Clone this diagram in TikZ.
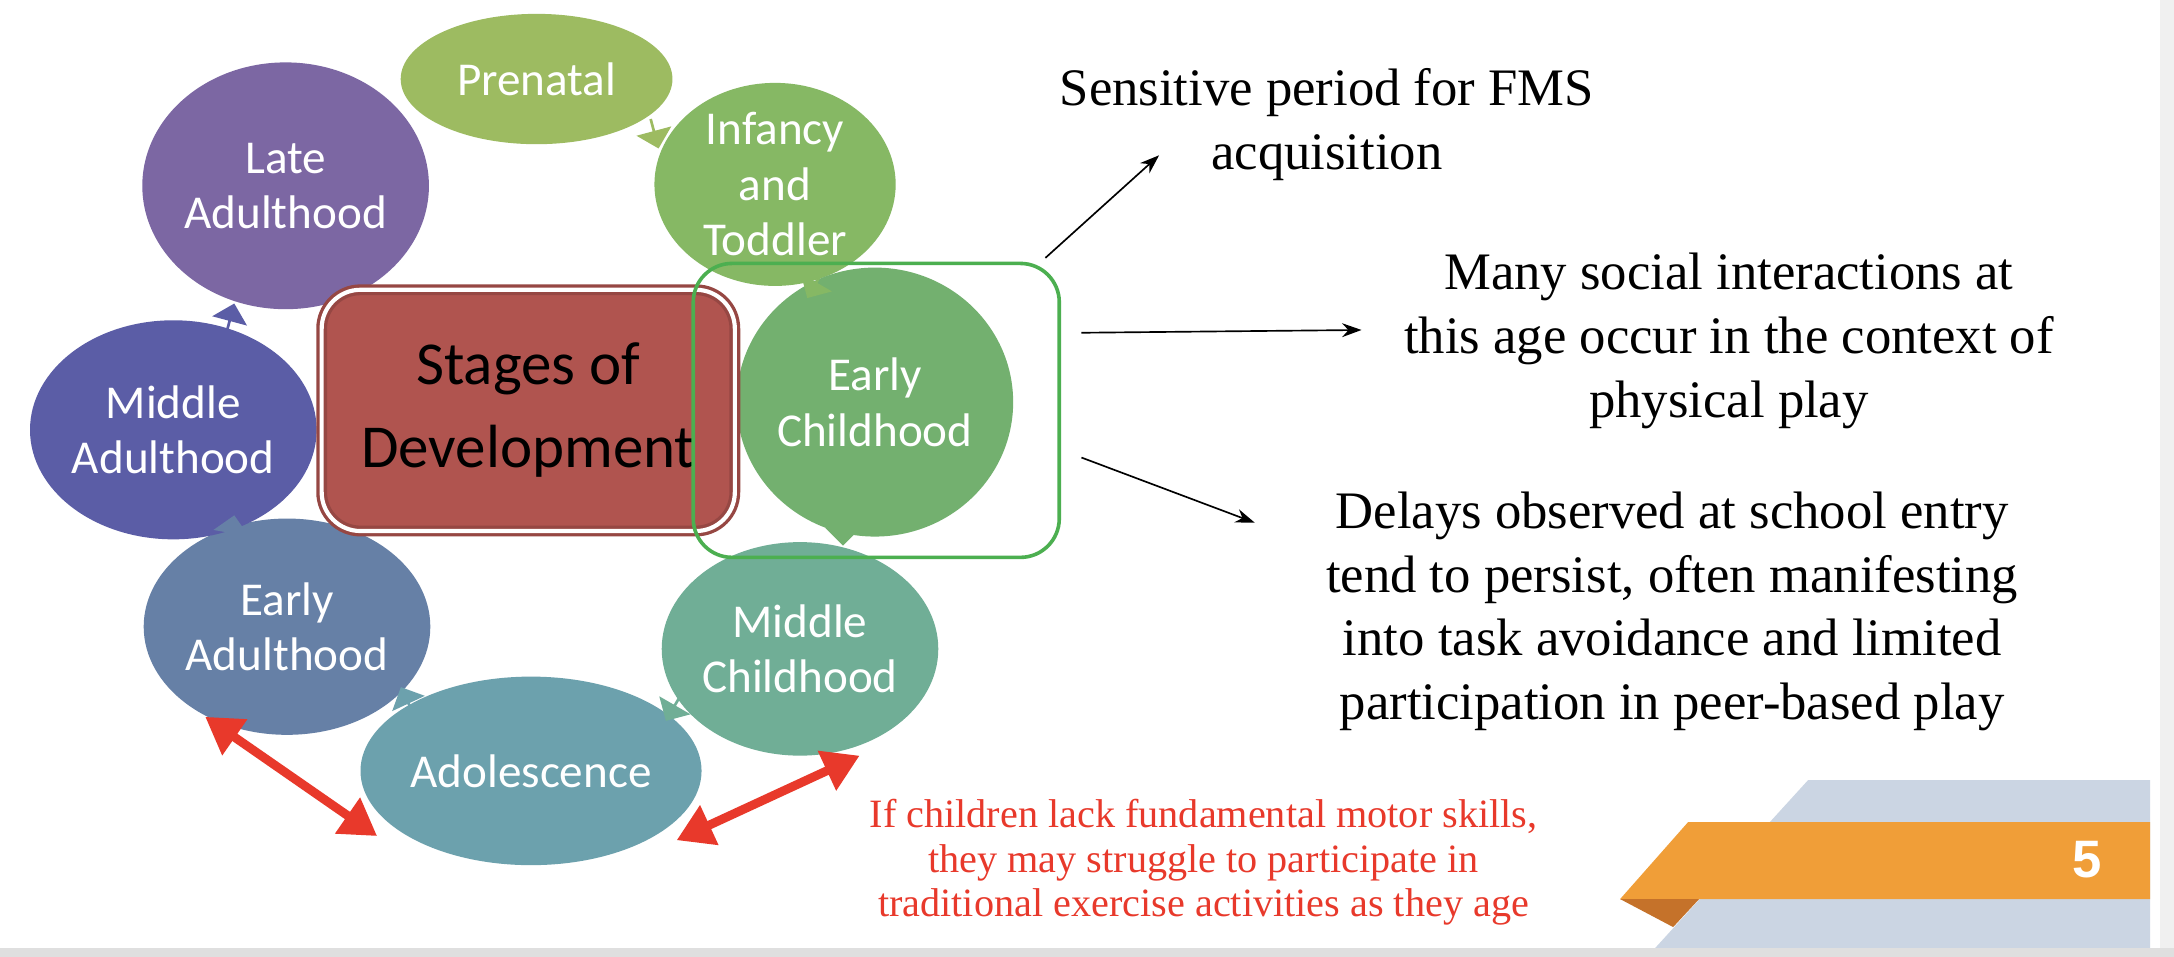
\documentclass[tikz,border=0pt]{standalone}
\usepackage{fontspec}
\setmainfont{Liberation Serif}
\newfontfamily\calfnt{Carlito}
\newfontfamily\arl{Liberation Sans}
\usetikzlibrary{shapes.geometric,shapes.arrows,arrows.meta}
\definecolor{cPre}{HTML}{9DBB61}
\definecolor{cInf}{HTML}{86B864}
\definecolor{cEC}{HTML}{73B06F}
\definecolor{cMC}{HTML}{70AE96}
\definecolor{cAdo}{HTML}{6CA1AD}
\definecolor{cEA}{HTML}{6680A6}
\definecolor{cMA}{HTML}{5B5DA6}
\definecolor{cLA}{HTML}{7C67A3}
\definecolor{cBox}{HTML}{B0544F}
\definecolor{cGreen}{HTML}{4CAF50}
\definecolor{cRed}{HTML}{E8392B}
\definecolor{cBlue}{HTML}{CBD5E3}
\definecolor{cOr}{HTML}{F09E38}
\definecolor{cOrD}{HTML}{C5722A}
\tikzset{
 stage/.style={ellipse,inner sep=0pt,text=white,font=\calfnt\fontsize{17}{20}\selectfont,align=center},
 blk/.style={single arrow,draw=none,minimum width=13pt,minimum height=11pt,single arrow head extend=2.5pt,inner sep=0pt},
 note/.style={align=center,font=\fontsize{19}{23}\selectfont},
 redarr/.style={draw=cRed,line width=3.2pt,{Triangle[length=13pt,width=15pt]}-{Triangle[length=13pt,width=15pt]}},
 blkarr/.style={-{Stealth[length=7pt,width=5pt]},line width=0.6pt}
}
\begin{document}
\begin{tikzpicture}[x=0.5pt,y=-0.5pt]
\useasboundingbox (0,0) rectangle (1568,690);
\fill[white] (0,0) rectangle (1568,690);
% ribbon
\begin{scope}[scale=0.7213]
\fill[cBlue] (1808,780) -- (2150,780) -- (2150,948) -- (1655,948) -- cycle;
\fill[cOr] (1688,822) -- (2150,822) -- (2150,899) -- (1620,899) -- cycle;
\fill[cOrD] (1620,899) -- (1699,899) -- (1673,927) -- cycle;
\node[text=white,font=\arl\bfseries\fontsize{19}{20}\selectfont] (num) at (2087,860) {5};
\fill[gray!25] (0,948) rectangle (2174,957);
\fill[gray!12] (2160,0) rectangle (2174,948);
\end{scope}
% stages
\node[stage,fill=cPre,minimum width=98pt,minimum height=47pt] (pre) at (387,57) {Prenatal};
\node[stage,fill=cInf,minimum width=87pt,minimum height=73pt] (inf) at (559,133) {Infancy\\and\\Toddler};
\node[stage,fill=cEC,minimum width=97pt,minimum height=97pt] (ec) at (631,290) {Early\\Childhood};
\node[stage,fill=cMC,minimum width=98pt,minimum height=77pt] (mc) at (577,468) {Middle\\Childhood};
\node[stage,fill=cAdo,minimum width=115pt,minimum height=68pt] (ado) at (383,556) {Adolescence};
\node[stage,fill=cEA,minimum width=93pt,minimum height=78pt] (ea) at (207,452) {Early\\Adulthood};
\node[stage,fill=cMA,minimum width=99pt,minimum height=79pt] (ma) at (125,310) {Middle\\Adulthood};
\node[stage,fill=cLA,minimum width=95pt,minimum height=89pt] (la) at (206,134) {Late\\Adulthood};
% center
\node[draw=cBox!85!black,line width=1.2pt,double=white,double distance=1.5pt,fill=cBox,rounded corners=14pt,
 minimum width=149pt,minimum height=87pt,font=\calfnt\fontsize{22}{30}\selectfont,align=center] (ctr) at (381,296) {Stages of\\Development};
% block arrows
\node[blk,fill=cPre,rotate=-75] (b1) at (472,96) {};
\node[blk,fill=cInf,rotate=-120] (b2) at (588,205) {};
\node[blk,fill=cEC,rotate=-90] (b3) at (608,382) {};
\node[blk,fill=cMC,rotate=-120] (b4) at (486,510) {};
\node[blk,fill=cAdo,rotate=115] (b5) at (294,506) {};
\node[blk,fill=cEA,rotate=80] (b6) at (167,383) {};
\node[blk,fill=cMA,rotate=75] (b7) at (166,230) {};
% green frame
\node[draw=cGreen,line width=1.3pt,rounded corners=14pt,minimum width=132pt,minimum height=106pt] (frame) at (632,296) {};
% notes
\node[note] (n1) at (957,90) {Sensitive period for FMS\\acquisition};
\node[note] (n2) at (1247,246) {Many social interactions at\\this age occur in the context of\\physical play};
\node[note] (n3) at (1206,441) {Delays observed at school entry\\tend to persist, often manifesting\\into task avoidance and limited\\participation in peer-based play};
\node[align=center,text=cRed,font=\fontsize{14.5}{16}\selectfont] (rt) at (868,622) {If children lack fundamental motor skills,\\they may struggle to participate in\\traditional exercise activities as they age};
\coordinate (s1) at (754,186); \coordinate (e1) at (836,112);
\coordinate (s2) at (780,240); \coordinate (e2) at (982,238);
\coordinate (s3) at (780,330); \coordinate (e3) at (905,377);
\draw[blkarr] (s1) -- (e1);
\draw[blkarr] (s2) -- (e2);
\draw[blkarr] (s3) -- (e3);
\coordinate (r1a) at (148,517); \coordinate (r1b) at (272,603);
\coordinate (r2a) at (488,606); \coordinate (r2b) at (620,545);
\draw[redarr] (r1a) -- (r1b);
\draw[redarr] (r2a) -- (r2b);
\end{tikzpicture}
\end{document}
